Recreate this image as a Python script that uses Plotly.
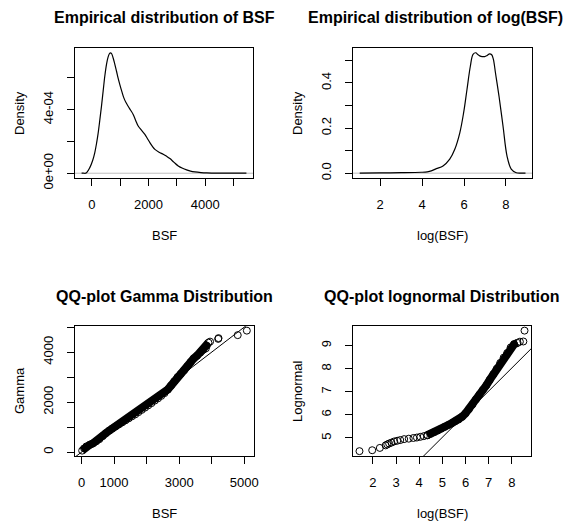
import plotly.graph_objects as go

# ---------------- data ----------------
# Panel 1: kernel density of BSF
bsf_dens_x = [-360, -300, -200, -70, 30, 106, 170, 223, 280, 341, 400, 459, 520, 576, 620,
              659, 700, 753, 810, 871, 930, 988, 1060, 1130, 1200, 1282, 1370, 1459, 1550,
              1635, 1750, 1871, 1960, 2047, 2130, 2224, 2370, 2518, 2640, 2753, 2900, 3047,
              3200, 3341, 3480, 3635, 3850, 4050, 4500, 5000, 5450]
bsf_dens_y = [0.0, 0.002e-4, 0.01e-4, 0.35e-4, 0.8e-4, 1.3e-4, 1.9e-4, 2.5e-4, 3.3e-4, 4.2e-4,
              5.15e-4, 6.1e-4, 6.85e-4, 7.3e-4, 7.5e-4, 7.56e-4, 7.5e-4, 7.23e-4, 6.85e-4,
              6.4e-4, 5.95e-4, 5.56e-4, 5.12e-4, 4.73e-4, 4.45e-4, 4.2e-4, 3.95e-4, 3.69e-4,
              3.3e-4, 2.96e-4, 2.7e-4, 2.44e-4, 2.18e-4, 1.92e-4, 1.7e-4, 1.5e-4, 1.32e-4,
              1.19e-4, 1.06e-4, 0.92e-4, 0.68e-4, 0.46e-4, 0.31e-4, 0.21e-4, 0.13e-4, 0.08e-4,
              0.04e-4, 0.02e-4, 0.005e-4, 0.001e-4, 0.0]

# Panel 2: kernel density of log(BSF)
log_dens_x = [1.03, 2.0, 3.0, 3.97, 4.25, 4.44, 4.68, 5.0, 5.32, 5.56, 5.8, 5.98, 6.14, 6.3,
              6.43, 6.56, 6.66, 6.75, 6.87, 6.99, 7.1, 7.22, 7.32, 7.4, 7.5, 7.67, 7.86, 8.05,
              8.25, 8.49, 8.7, 8.93]
log_dens_y = [0.0, 0.001, 0.002, 0.004, 0.006, 0.010, 0.020, 0.032, 0.062, 0.106, 0.179, 0.267,
              0.37, 0.473, 0.527, 0.534, 0.526, 0.52, 0.517, 0.517, 0.522, 0.529, 0.525, 0.505,
              0.444, 0.34, 0.208, 0.076, 0.018, 0.002, 0.0, 0.0]

# Panel 3: QQ-plot against Gamma (dense band + isolated points)
gam_band_x = [20, 80, 150, 250, 350, 450, 550, 650, 750, 850, 950, 1050, 1150, 1250, 1350,
              1450, 1550, 1650, 1750, 1850, 1950, 2050, 2150, 2250, 2350, 2450, 2550, 2650,
              2750, 2850, 2950, 3050, 3150, 3250, 3350, 3450, 3550, 3650, 3750, 3850, 3900]
gam_band_y = [60, 150, 230, 290, 350, 430, 520, 640, 760, 860, 950, 1030, 1110, 1190, 1270,
              1350, 1430, 1510, 1600, 1690, 1780, 1870, 1960, 2060, 2150, 2250, 2360, 2500,
              2660, 2830, 3000, 3130, 3270, 3430, 3600, 3750, 3860, 3980, 4100, 4260, 4380]
gam_pts_x = [3700, 3820, 3950, 4200, 4210, 4800, 5080]
gam_pts_y = [4050, 4150, 4420, 4530, 4560, 4680, 4860]
gam_line_a, gam_line_b = 0, 1.0  # intercept, slope

# Panel 4: QQ-plot against lognormal
ln_pts_x = [1.42, 1.97, 2.30, 2.55, 2.62, 2.70, 2.80, 2.92, 3.05, 3.18, 3.35, 3.55, 3.75, 3.90,
            4.05, 4.20, 4.35, 8.35, 8.50, 8.55]
ln_pts_y = [4.43, 4.47, 4.57, 4.68, 4.72, 4.76, 4.80, 4.85, 4.88, 4.91, 4.95, 4.97, 5.00, 5.02,
            5.05, 5.08, 5.12, 9.17, 9.18, 9.65]
ln_band_x = [4.35, 4.5, 4.65, 4.8, 4.95, 5.1, 5.25, 5.4, 5.55, 5.7, 5.85, 6.0, 6.15, 6.3, 6.45,
             6.6, 6.75, 6.9, 7.05, 7.2, 7.35, 7.5, 7.65, 7.8, 7.95, 8.1, 8.25]
ln_band_y = [5.12, 5.18, 5.25, 5.32, 5.40, 5.48, 5.56, 5.64, 5.72, 5.80, 5.92, 6.07, 6.25, 6.45,
             6.67, 6.88, 7.08, 7.28, 7.52, 7.76, 8.00, 8.25, 8.48, 8.68, 8.92, 9.06, 9.12]
ln_line_a, ln_line_b = 0.03, 1.0

titles = ["Empirical distribution of BSF", "Empirical distribution of log(BSF)",
          "QQ-plot Gamma Distribution", "QQ-plot lognormal Distribution"]
xlabels = ["BSF", "log(BSF)", "BSF", "log(BSF)"]
ylabels = ["Density", "Density", "Gamma", "Lognormal"]

p1_xticks = [0, 1000, 2000, 3000, 4000, 5000]
p1_xtext = ["0", "", "2000", "", "4000", ""]
p1_yticks = [0, 2e-4, 4e-4, 6e-4]
p1_ytext = ["0e+00", "", "4e-04", ""]
p2_xticks = [2, 4, 6, 8]
p2_yticks = [0, 0.1, 0.2, 0.3, 0.4, 0.5]
p2_ytext = ["0.0", "", "0.2", "", "0.4", ""]
p3_xticks = [0, 1000, 2000, 3000, 4000, 5000]
p3_xtext = ["0", "1000", "", "3000", "", "5000"]
p3_yticks = [0, 1000, 2000, 3000, 4000, 5000]
p3_ytext = ["0", "", "2000", "", "4000", ""]
p4_xticks = [2, 3, 4, 5, 6, 7, 8]
p4_yticks = [5, 6, 7, 8, 9]

# ---------------- layout geometry ----------------
W, H = 566, 522
FONT = "Liberation Sans, Arial, Helvetica, sans-serif"
boxes = [(75, 48, 253, 178), (353, 48, 532, 178), (75, 326, 254, 456), (353, 326, 531, 456)]
xranges = [[-592, 5682], [0.71, 9.24], [-200, 5300], [1.14, 8.83]]
yranges = [[-0.30e-4, 7.86e-4], [-0.0214, 0.555], [-155, 5045], [4.22, 9.85]]
title_right = [None, 565, None, None]

fig = go.Figure()

line_style = dict(color="black", width=1.2)
circ = dict(symbol="circle-open", size=7, color="black", line=dict(width=1, color="black"))

fig.add_trace(go.Scatter(x=bsf_dens_x, y=bsf_dens_y, mode="lines", line=dict(shape="spline", **line_style),
                         xaxis="x", yaxis="y"))
fig.add_trace(go.Scatter(x=log_dens_x, y=log_dens_y, mode="lines", line=dict(shape="spline", **line_style),
                         xaxis="x2", yaxis="y2"))

# QQ gamma
fig.add_trace(go.Scatter(x=gam_band_x, y=gam_band_y, mode="lines+markers",
                         line=dict(color="black", width=8), marker=circ, xaxis="x3", yaxis="y3"))
fig.add_trace(go.Scatter(x=gam_pts_x, y=gam_pts_y, mode="markers", marker=circ, xaxis="x3", yaxis="y3"))
gx = xranges[2]
fig.add_trace(go.Scatter(x=gx, y=[gam_line_a + gam_line_b * v for v in gx], mode="lines",
                         line=dict(color="black", width=1), xaxis="x3", yaxis="y3"))

# QQ lognormal
fig.add_trace(go.Scatter(x=ln_band_x, y=ln_band_y, mode="lines+markers",
                         line=dict(color="black", width=8), marker=circ, xaxis="x4", yaxis="y4"))
fig.add_trace(go.Scatter(x=ln_pts_x, y=ln_pts_y, mode="markers", marker=circ, xaxis="x4", yaxis="y4"))
lx = xranges[3]
fig.add_trace(go.Scatter(x=lx, y=[ln_line_a + ln_line_b * v for v in lx], mode="lines",
                         line=dict(color="black", width=1), xaxis="x4", yaxis="y4"))

tickfont = dict(size=13, color="black", family=FONT)
axis_common = dict(showline=True, linecolor="black", linewidth=1, mirror=True, ticks="outside",
                   ticklen=7, tickwidth=1, tickcolor="black", showgrid=False, zeroline=False,
                   tickfont=tickfont, automargin=False, fixedrange=True)

xt = [(p1_xticks, p1_xtext), (p2_xticks, [str(v) for v in p2_xticks]), (p3_xticks, p3_xtext),
      (p4_xticks, [str(v) for v in p4_xticks])]
yt = [(p1_yticks, p1_ytext), (p2_yticks, p2_ytext), (p3_yticks, p3_ytext),
      (p4_yticks, [str(v) for v in p4_yticks])]

layout = {}
for i, (l, t, r, b) in enumerate(boxes):
    n = "" if i == 0 else str(i + 1)
    layout["xaxis" + n] = dict(domain=[l / W, r / W], range=xranges[i], anchor="y" + n,
                               tickvals=xt[i][0], ticktext=xt[i][1], ticklabelstandoff=7, **axis_common)
    layout["yaxis" + n] = dict(domain=[1 - b / H, 1 - t / H], range=yranges[i], anchor="x" + n,
                               tickvals=yt[i][0], ticktext=yt[i][1], tickangle=-90,
                               ticklabelstandoff=9, **axis_common)

annotations = []
for i, (l, t, r, b) in enumerate(boxes):
    cx = (l + r) / 2
    if title_right[i] is None:
        tx, anchor = cx / W, "center"
    else:
        tx, anchor = title_right[i] / W, "right"
    annotations.append(dict(text="<b>%s</b>" % titles[i], x=tx, y=1 - (t - 30) / H, xref="paper",
                            yref="paper", showarrow=False, xanchor=anchor, yanchor="middle",
                            font=dict(size=16, color="black", family=FONT)))
    annotations.append(dict(text=xlabels[i], x=cx / W, y=1 - (b + 57) / H, xref="paper", yref="paper",
                            showarrow=False, xanchor="center", yanchor="middle",
                            font=dict(size=13, color="black", family=FONT)))
    annotations.append(dict(text=ylabels[i], x=(l - 56) / W, y=1 - ((t + b) / 2) / H, xref="paper",
                            yref="paper", showarrow=False, xanchor="center", yanchor="middle",
                            textangle=-90, font=dict(size=13, color="black", family=FONT)))

fig.update_layout(width=W, height=H, margin=dict(l=0, r=0, t=0, b=0), showlegend=False,
                  paper_bgcolor="white", plot_bgcolor="white", template="none",
                  annotations=annotations, font=dict(family=FONT, color="black"), **layout)

# grey zero lines of density plots
fig.add_hline(y=0, line=dict(color="#bebebe", width=1), xref="x", yref="y", layer="below")
fig.add_shape(type="line", xref="x2 domain", yref="y2", x0=0, x1=1, y0=0, y1=0,
              line=dict(color="#bebebe", width=1), layer="below")

fig.write_html("out.html")
